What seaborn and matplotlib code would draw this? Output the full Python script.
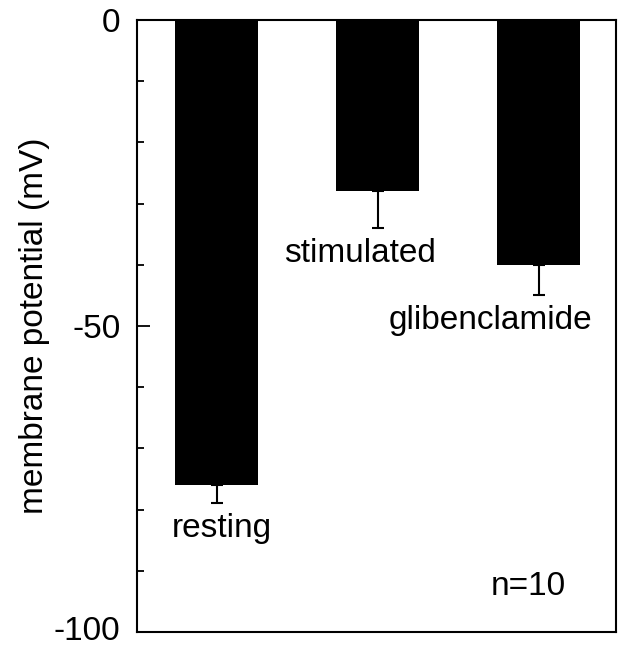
import pandas as pd
import seaborn as sns
import matplotlib
import matplotlib.pyplot as plt
import matplotlib.transforms as mtransforms
from matplotlib.ticker import MultipleLocator
matplotlib.use('Agg')

sns.set_theme(style="white")
plt.rcParams['font.family'] = ['Liberation Sans', 'DejaVu Sans']
plt.rcParams['axes.unicode_minus'] = False
plt.rcParams['text.color'] = 'black'
plt.rcParams['axes.labelcolor'] = 'black'
plt.rcParams['ytick.color'] = 'black'
plt.rcParams['ytick.direction'] = 'in'

# membrane potential per condition (mV)
conditions = ['resting', 'stimulated', 'glibenclamide']
potential = [-76, -28, -40]
sem = [3, 6, 5]
n_cells = 'n=10'

df = pd.DataFrame({'condition': conditions, 'potential': potential})

fig = plt.figure(figsize=(6.22, 6.46), dpi=100)
ax = fig.add_axes([0.2203, 0.0217, 0.7700, 0.9474])

sns.barplot(x='condition', y='potential', data=df, color='black',
            width=0.515, errorbar=None, saturation=1, ax=ax)
for p in ax.patches:
    p.set_edgecolor('none')

# one-sided error bars, pointing away from zero
ax.errorbar(range(len(conditions)), potential, yerr=[sem, [0] * len(sem)],
            fmt='none', ecolor='black', elinewidth=1.5, capsize=4, capthick=1.5)

# condition labels under each error bar
label_dx = [0.03, -0.11, -0.30]
for i, (name, v, e) in enumerate(zip(conditions, potential, sem)):
    ax.text(i + label_dx[i], v - e - 1.6, name, ha='center', va='top', fontsize=24)

ax.text(0.816, 0.074, n_cells, transform=ax.transAxes, ha='center', va='center', fontsize=24)

ax.set_ylim(-100, 0)
ax.set_xlim(-0.494, 2.48)
ax.set_yticks([0, -50, -100])
ax.yaxis.set_minor_locator(MultipleLocator(10))
ax.tick_params(axis='y', which='major', direction='in', length=9.5, width=1.3,
               labelsize=24, pad=12, left=True, colors='black')
ax.tick_params(axis='y', which='minor', direction='in', length=5, width=1.3,
               left=True, colors='black')
ax.set_xticks([])
ax.set_xlabel('')
ax.set_ylabel('membrane potential (mV)', fontsize=24, labelpad=3)

# nudge the bottom tick label up a little so it stays inside the canvas
lab = ax.get_yticklabels()[-1]
lab.set_transform(lab.get_transform() + mtransforms.ScaledTranslation(0, 3 / 72, fig.dpi_scale_trans))

for s in ax.spines.values():
    s.set_color('black')
    s.set_linewidth(1.5)

fig.savefig('out.png', dpi=100)
